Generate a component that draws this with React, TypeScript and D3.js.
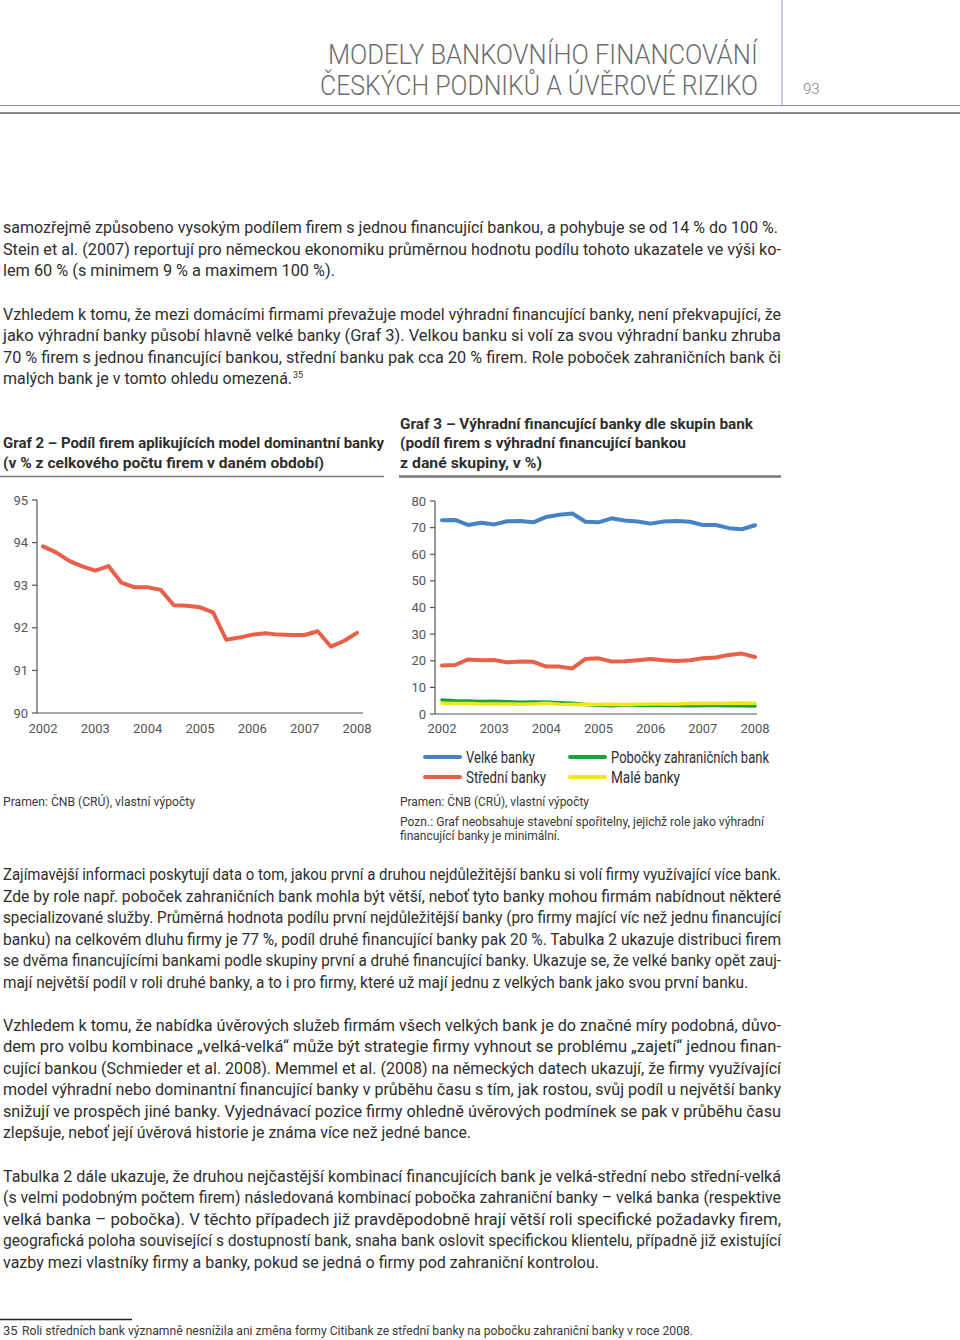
import React, { useLayoutEffect, useRef, useState } from "react";
import * as d3 from "d3";

// ---------- DATA ----------
const years = [2002, 2003, 2004, 2005, 2006, 2007, 2008];
const quarterIndex = d3.range(25); // quarterly observations 2002Q1 .. 2008Q1

const dominantShare = [93.91, 93.77, 93.57, 93.44, 93.34, 93.45, 93.06, 92.95, 92.95, 92.89, 92.53, 92.52, 92.48, 92.36, 91.72, 91.77, 91.84, 91.87, 91.84, 91.83, 91.83, 91.92, 91.56, 91.69, 91.88];
const chart1Ticks = [90, 91, 92, 93, 94, 95];

const velke = [72.8, 72.9, 71.0, 71.8, 71.2, 72.4, 72.5, 72.0, 74.0, 74.8, 75.3, 72.2, 72.0, 73.5, 72.7, 72.3, 71.5, 72.3, 72.5, 72.2, 71.0, 71.0, 69.8, 69.4, 70.9];
const stredni = [18.2, 18.4, 20.5, 20.2, 20.3, 19.4, 19.7, 19.6, 17.8, 17.8, 17.1, 20.7, 20.9, 19.7, 19.8, 20.2, 20.7, 20.2, 19.9, 20.2, 20.9, 21.2, 22.2, 22.7, 21.4];
const pobocky = [5.3, 5.0, 4.9, 4.7, 4.8, 4.6, 4.4, 4.5, 4.5, 4.2, 4.0, 3.6, 3.3, 3.1, 3.5, 3.3, 3.3, 3.2, 3.2, 3.1, 3.2, 3.2, 3.1, 3.1, 3.0];
const male = [4.0, 3.9, 3.9, 3.8, 3.8, 3.8, 3.7, 3.8, 4.0, 3.7, 3.6, 3.7, 3.6, 3.7, 3.6, 3.7, 3.8, 3.8, 3.8, 3.9, 4.0, 3.9, 4.0, 4.1, 4.0];
const chart2Ticks = [0, 10, 20, 30, 40, 50, 60, 70, 80];

const seriesNames = ["Velké banky", "Střední banky", "Pobočky zahraničních bank", "Malé banky"];
const seriesColors = ["#4583c4", "#e8604a", "#1d9f3c", "#f0e61c"];
const legendLabelWidths = [69, 80, 158, 69];

const headerLines = ["MODELY BANKOVNÍHO FINANCOVÁNÍ", "ČESKÝCH PODNIKŮ A ÚVĚROVÉ RIZIKO"];
const pageNumber = "93";

const graf2Title = ["Graf 2 – Podíl firem aplikujících model dominantní banky", "(v % z celkového počtu firem v daném období)"];
const graf3Title = ["Graf 3 – Výhradní financující banky dle skupin bank", "(podíl firem s výhradní financující bankou", "z dané skupiny, v %)"];
const sourceText = "Pramen:  ČNB (CRÚ), vlastní výpočty";
const noteLines = ["Pozn.: Graf neobsahuje stavební spořitelny, jejichž role jako výhradní", "financující banky je minimální."];
const footnoteText = "Roli středních bank významně nesnížila ani změna formy Citibank ze střední banky na pobočku zahraniční banky v roce 2008.";

// [text, baseline, endX]
const bodyLines: [string, number, number][] = [
  ["samozřejmě způsobeno vysokým podílem firem s jednou financující bankou, a pohybuje se od 14 % do 100 %.", 233, 778],
  ["Stein et al. (2007) reportují pro německou ekonomiku průměrnou hodnotu podílu tohoto ukazatele ve výši ko-", 255, 781],
  ["lem 60 % (s minimem 9 % a maximem 100 %).", 276, 335],
  ["Vzhledem k tomu, že mezi domácími firmami převažuje model výhradní financující banky, není překvapující, že", 320, 781],
  ["jako výhradní banky působí hlavně velké banky (Graf 3). Velkou banku si volí za svou výhradní banku zhruba", 341, 781],
  ["70 % firem s jednou financující bankou, střední banku pak cca 20 % firem. Role poboček zahraničních bank či", 363, 781],
  ["malých bank je v tomto ohledu omezená.", 384, 292],
  ["Zajímavější informaci poskytují data o tom, jakou první a druhou nejdůležitější banku si volí firmy využívající více bank.", 880, 781],
  ["Zde by role např. poboček zahraničních bank mohla být větší, neboť tyto banky mohou firmám nabídnout některé", 902, 781],
  ["specializované služby. Průměrná hodnota podílu první nejdůležitější banky (pro firmy mající víc než jednu financující", 923, 781],
  ["banku) na celkovém dluhu firmy je 77 %, podíl druhé financující banky pak 20 %. Tabulka 2 ukazuje distribuci firem", 945, 781],
  ["se dvěma financujícími bankami podle skupiny první a druhé financující banky. Ukazuje se, že velké banky opět zauj-", 966, 781],
  ["mají největší podíl v roli druhé banky, a to i pro firmy, které už mají jednu z velkých bank jako svou první banku.", 988, 748],
  ["Vzhledem k tomu, že nabídka úvěrových služeb firmám všech velkých bank je do značné míry podobná, důvo-", 1031, 781],
  ["dem pro volbu kombinace „velká-velká“ může být strategie firmy vyhnout se problému „zajetí“ jednou finan-", 1052, 781],
  ["cující bankou (Schmieder et al. 2008). Memmel et al. (2008) na německých datech ukazují, že firmy využívající", 1074, 781],
  ["model výhradní nebo dominantní financující banky v průběhu času s tím, jak rostou, svůj podíl u největší banky", 1095, 781],
  ["snižují ve prospěch jiné banky. Vyjednávací pozice firmy ohledně úvěrových podmínek se pak v průběhu času", 1117, 781],
  ["zlepšuje, neboť její úvěrová historie je známa více než jedné bance.", 1138, 471],
  ["Tabulka 2 dále ukazuje, že druhou nejčastější kombinací financujících bank je velká-střední nebo střední-velká", 1182, 781],
  ["(s velmi podobným počtem firem) následovaná kombinací pobočka zahraniční banky – velká banka (respektive", 1203, 781],
  ["velká banka – pobočka). V těchto případech již pravděpodobně hrají větší roli specifické požadavky firem,", 1225, 781],
  ["geografická poloha související s dostupností bank, snaha bank oslovit specifickou klientelu, případně již existující", 1246, 781],
  ["vazby mezi vlastníky firmy a banky, pokud se jedná o firmy pod zahraniční kontrolou.", 1268, 599],
];

const FONT = "'Roboto', 'Noto Sans', sans-serif";
const TEXT = "#2e2e2e";
const AXIS = "#555";

// Text whose natural width is squeezed horizontally (via transform) to a target width
function FitText({ x, y, width, children, ...rest }: any) {
  const ref = useRef<SVGTextElement>(null);
  const [sx, setSx] = useState(1);
  useLayoutEffect(() => {
    if (ref.current) {
      const w = ref.current.getComputedTextLength();
      if (w > 0) setSx(width / w);
    }
  }, [width, children]);
  return (
    <text ref={ref} transform={`translate(${x},${y}) scale(${sx},1)`} {...rest}>
      {children}
    </text>
  );
}

function LineChart1() {
  const x = d3.scaleLinear().domain([0, 24]).range([43, 357]);
  const y = d3.scaleLinear().domain([90, 95]).range([713, 500]);
  const line = d3.line<number>().x((_, i) => x(quarterIndex[i])).y((d) => y(d));
  const yearX = d3.scaleLinear().domain([2002, 2008]).range([43, 357]);
  return (
    <g fontFamily={FONT}>
      <line x1={37} x2={37} y1={500} y2={713} stroke={AXIS} strokeWidth={1.2} />
      <line x1={37} x2={363} y1={713} y2={713} stroke={AXIS} strokeWidth={1.2} />
      {chart1Ticks.map((t) => (
        <g key={t}>
          <line x1={32} x2={37} y1={y(t)} y2={y(t)} stroke={AXIS} strokeWidth={1.2} />
          <text x={28} y={y(t) + 4.5} textAnchor="end" fontSize={13} fill={AXIS}>{t}</text>
        </g>
      ))}
      {years.map((yr) => (
        <text key={yr} x={yearX(yr)} y={733} textAnchor="middle" fontSize={13} fill={AXIS}>{yr}</text>
      ))}
      <path d={line(dominantShare) || ""} fill="none" stroke="#e8604a" strokeWidth={4} strokeLinejoin="round" strokeLinecap="round" />
    </g>
  );
}

function LineChart2() {
  const x = d3.scaleLinear().domain([0, 24]).range([442, 755]);
  const y = d3.scaleLinear().domain([0, 80]).range([714, 501]);
  const line = d3.line<number>().x((_, i) => x(quarterIndex[i])).y((d) => y(d));
  const yearX = d3.scaleLinear().domain([2002, 2008]).range([442, 755]);
  const all = [velke, stredni, pobocky, male];
  const drawOrder = [2, 3, 1, 0];
  return (
    <g fontFamily={FONT}>
      <line x1={435} x2={435} y1={501} y2={714} stroke={AXIS} strokeWidth={1.2} />
      <line x1={435} x2={757} y1={714} y2={714} stroke={AXIS} strokeWidth={1.2} />
      {chart2Ticks.map((t) => (
        <g key={t}>
          <line x1={430} x2={435} y1={y(t)} y2={y(t)} stroke={AXIS} strokeWidth={1.2} />
          <text x={426} y={y(t) + 4.5} textAnchor="end" fontSize={13} fill={AXIS}>{t}</text>
        </g>
      ))}
      {years.map((yr) => (
        <text key={yr} x={yearX(yr)} y={733} textAnchor="middle" fontSize={13} fill={AXIS}>{yr}</text>
      ))}
      {drawOrder.map((k) => (
        <path key={k} d={line(all[k]) || ""} fill="none" stroke={seriesColors[k]} strokeWidth={k >= 2 ? 3.5 : 4} strokeLinejoin="round" strokeLinecap="round" />
      ))}
      {/* legend */}
      {seriesNames.map((name, i) => {
        const col = Math.floor(i / 2);
        const row = i % 2;
        const lx = col === 0 ? 425 : 570;
        const ly = 757 + row * 20;
        return (
          <g key={name}>
            <line x1={lx} x2={lx + 35} y1={ly} y2={ly} stroke={seriesColors[i]} strokeWidth={4} strokeLinecap="round" />
            <text x={lx + 41} y={ly + 6} fontSize={16} fill={TEXT} textLength={legendLabelWidths[i]} lengthAdjust="spacingAndGlyphs">{name}</text>
          </g>
        );
      })}
    </g>
  );
}

export default function App() {
  return (
    <svg width={960} height={1340} viewBox="0 0 960 1340" style={{ position: "absolute", left: 0, top: 0, display: "block", background: "#fff" }}>
      <rect width={960} height={1340} fill="#fff" />
      {/* header */}
      <g fontFamily={FONT} fontWeight={300} fill="#6d6d6d" fontSize={28}>
        <FitText x={328} y={64} width={430}>{headerLines[0]}</FitText>
        <FitText x={320} y={95} width={438}>{headerLines[1]}</FitText>
      </g>
      <text x={803} y={94} fontFamily={FONT} fontWeight={300} fontSize={15} fill="#7a7a7a">{pageNumber}</text>
      <line x1={782} x2={782} y1={0} y2={105} stroke="#a493b3" strokeWidth={1} />
      <line x1={0} x2={960} y1={105.5} y2={105.5} stroke="#9d88ad" strokeWidth={1.2} />
      <line x1={0} x2={960} y1={113} y2={113} stroke="#8a8a8a" strokeWidth={2} />

      {/* body text */}
      <g fontFamily={FONT} fontSize={16} fill={TEXT}>
        {bodyLines.map(([t, yy, end], i) => (
          <text key={i} x={3} y={yy} textLength={end - 3} lengthAdjust="spacingAndGlyphs">{t}</text>
        ))}
        <text x={293} y={378} fontSize={9}>35</text>
      </g>

      {/* chart titles */}
      <g fontFamily={FONT} fontSize={15} fontWeight="bold" fill={TEXT}>
        <text x={3} y={448} textLength={381} lengthAdjust="spacingAndGlyphs">{graf2Title[0]}</text>
        <text x={3} y={468} textLength={321} lengthAdjust="spacingAndGlyphs">{graf2Title[1]}</text>
        <text x={400} y={429} textLength={353} lengthAdjust="spacingAndGlyphs">{graf3Title[0]}</text>
        <text x={400} y={448} textLength={286} lengthAdjust="spacingAndGlyphs">{graf3Title[1]}</text>
        <text x={400} y={468} textLength={142} lengthAdjust="spacingAndGlyphs">{graf3Title[2]}</text>
      </g>
      <line x1={0} x2={384} y1={476.5} y2={476.5} stroke="#777" strokeWidth={1.6} />
      <line x1={399} x2={781} y1={476.5} y2={476.5} stroke="#777" strokeWidth={2.4} />

      <LineChart1 />
      <LineChart2 />

      {/* sources & notes */}
      <g fontFamily={FONT} fontSize={13} fill="#3a3a3a">
        <text x={3} y={806} textLength={192} lengthAdjust="spacingAndGlyphs">{sourceText}</text>
        <text x={400} y={806} textLength={189} lengthAdjust="spacingAndGlyphs">{sourceText.replace("  ", " ")}</text>
        <text x={400} y={826} textLength={364} lengthAdjust="spacingAndGlyphs">{noteLines[0]}</text>
        <text x={400} y={840} textLength={160} lengthAdjust="spacingAndGlyphs">{noteLines[1]}</text>
      </g>

      {/* footnote */}
      <line x1={0} x2={132} y1={1319.5} y2={1319.5} stroke="#222" strokeWidth={1.5} />
      <g fontFamily={FONT} fontSize={13} fill="#3a3a3a">
        <text x={3} y={1335}>35</text>
        <text x={22} y={1335} textLength={671} lengthAdjust="spacingAndGlyphs">{footnoteText}</text>
      </g>
    </svg>
  );
}
